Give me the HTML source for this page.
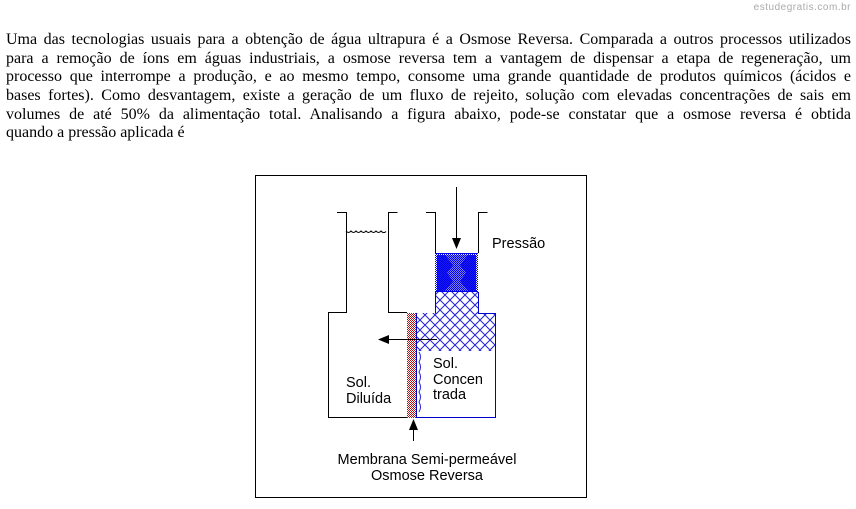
<!DOCTYPE html>
<html><head><meta charset="utf-8"><style>
body{margin:0;width:856px;height:509px;background:#fff;position:relative;overflow:hidden}
.p{position:absolute;left:6px;top:31px;width:845px;font-family:"Liberation Serif",serif;font-size:16px;line-height:18.7px;color:#000}
.p div{text-align:justify;text-align-last:justify;white-space:nowrap;height:18.7px}
.p div.l{text-align-last:left}
.wm{position:absolute;right:5px;top:2px;font-family:"Liberation Sans",sans-serif;font-size:10px;color:#aaa;letter-spacing:.5px}
.t{font-family:"Liberation Sans",sans-serif;font-size:14.5px;fill:#000}
</style></head><body>
<div class="wm">estudegratis.com.br</div>
<div class="p">
<div>Uma das tecnologias usuais para a obtenção de água ultrapura é a Osmose Reversa. Comparada a outros processos utilizados</div>
<div>para a remoção de íons em águas industriais, a osmose reversa tem a vantagem de dispensar a etapa de regeneração, um</div>
<div>processo que interrompe a produção, e ao mesmo tempo, consome uma grande quantidade de produtos químicos (ácidos e</div>
<div>bases fortes). Como desvantagem, existe a geração de um fluxo de rejeito, solução com elevadas concentrações de sais em</div>
<div>volumes de até 50% da alimentação total. Analisando a figura abaixo, pode-se constatar que a osmose reversa é obtida</div>
<div class="l">quando a pressão aplicada é</div>
</div>
<svg width="856" height="509" style="position:absolute;left:0;top:0">
<defs>
<pattern id="x" width="10" height="10" patternUnits="userSpaceOnUse"><path d="M0 0L10 10M10 0L0 10" stroke="#2222dd" stroke-width="1"/></pattern>
<pattern id="c" width="2" height="2" patternUnits="userSpaceOnUse"><rect width="2" height="2" fill="#fff"/><rect width="1" height="1" fill="#0000ee"/><rect x="1" y="1" width="1" height="1" fill="#0000ee"/></pattern>
<pattern id="r" width="2" height="2" patternUnits="userSpaceOnUse"><rect width="2" height="2" fill="#fff"/><rect width="1" height="1" fill="#b01010"/><rect x="1" y="1" width="1" height="1" fill="#b01010"/></pattern>
</defs>
<rect x="255.5" y="175.5" width="331" height="322" fill="none" stroke="#000"/>
<rect x="435" y="292" width="43" height="22" fill="url(#x)"/>
<rect x="416" y="313" width="80" height="38" fill="url(#x)"/>
<rect x="435" y="253" width="43" height="39" fill="url(#c)"/>
<path d="M437 255h8l8 10l-6 8l6 8l-8 10h-8z M476 255h-8l-8 10l6 8l-6 8l8 10h8z" fill="#0000ee" opacity=".9"/>
<path d="M445 255h23l-8 10l6 8l-6 8l8 10h-23l8-10l-6-8l6-8z" fill="#0000ee" opacity=".5"/>
<line x1="435" y1="253.5" x2="478" y2="253.5" stroke="#0000ee"/>
<line x1="435" y1="291.5" x2="478" y2="291.5" stroke="#0000ee"/>
<rect x="407" y="313" width="9" height="105" fill="url(#r)"/>
<line x1="416.5" y1="313" x2="416.5" y2="418" stroke="#0000cc"/>
<path d="M419 352 q3 5 0 10 q3 5 0 10 q3 5 0 10 q3 5 0 10 q3 5 0 10 q3 5 0 10" fill="none" stroke="#2222dd"/>
<path d="M337 212.5h9.5V312.5H328.5V417.5H407 M389 212.5h-0.5V312.5H407" fill="none" stroke="#000"/>
<path d="M388.5 212.5h9" stroke="#000"/>
<path d="M426 212.5h9.5V253 M478.5 253V212.5h9" fill="none" stroke="#000"/>
<path d="M435.5 292V313.5 M478.5 292V313.5H495.5V417.5H416" fill="none" stroke="#0000cc"/>
<path d="M495.5 351V417.5H416" fill="none" stroke="#0000cc" stroke-dasharray="1 2"/>
<path d="M346 231 q2.5 3 5 0 q2.5 3 5 0 q2.5 3 5 0 q2.5 3 5 0 q2.5 3 5 0 q2.5 3 5 0 q2.5 3 5 0 q2.5 3 5 0.5" fill="none" stroke="#000"/>
<line x1="456.5" y1="187" x2="456.5" y2="240" stroke="#000"/>
<path d="M452 238h9l-4.5 11z" fill="#000"/>
<line x1="437" y1="339.5" x2="386" y2="339.5" stroke="#000"/>
<path d="M378 339.5l11-4.5v9z" fill="#000"/>
<line x1="413.5" y1="441" x2="413.5" y2="428" stroke="#000"/>
<path d="M413.5 419l-4.5 11h9z" fill="#000"/>
<text class="t" x="492" y="248">Pressão</text>
<text class="t" x="433" y="368">Sol.</text>
<text class="t" x="433" y="384">Concen</text>
<text class="t" x="433" y="399">trada</text>
<text class="t" x="346" y="387">Sol.</text>
<text class="t" x="346" y="403">Diluída</text>
<text class="t" x="427" y="464" text-anchor="middle">Membrana Semi-permeável</text>
<text class="t" x="427" y="480" text-anchor="middle">Osmose Reversa</text>
</svg>
</body></html>
